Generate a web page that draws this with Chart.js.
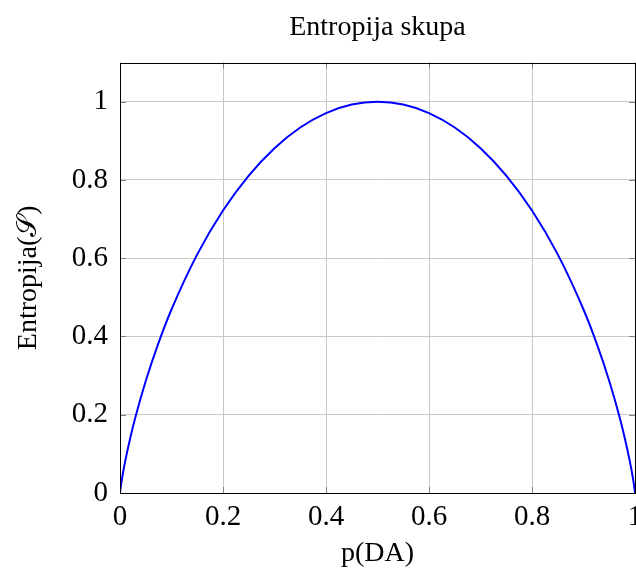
<!DOCTYPE html>
<html>
<head>
<meta charset="utf-8">
<script src="https://cdn.jsdelivr.net/npm/chart.js@4.4.1/dist/chart.umd.min.js"></script>
<style>
  html, body { margin: 0; padding: 0; background: #fff; overflow: hidden; }
  #wrap { width: 636px; height: 570px; overflow: hidden; }
</style>
</head>
<body>
<div id="wrap"><canvas id="entropyChart" width="680" height="570"></canvas></div>
<script>
// p(DA) values and entropy
const pValues = [0, 0.002, 0.005, 0.01, 0.02, 0.03, 0.05, 0.075, 0.1, 0.15, 0.2, 0.25, 0.3, 0.35, 0.4, 0.45, 0.5,
  0.55, 0.6, 0.65, 0.7, 0.75, 0.8, 0.85, 0.9, 0.925, 0.95, 0.97, 0.98, 0.99, 0.995, 0.998, 1];
const entropyValues = [0, 0.0208, 0.0454, 0.0808, 0.1414, 0.1944, 0.2864, 0.3843, 0.469, 0.6098, 0.7219, 0.8113, 0.8813, 0.9341, 0.971, 0.9928, 1,
  0.9928, 0.971, 0.9341, 0.8813, 0.8113, 0.7219, 0.6098, 0.469, 0.3843, 0.2864, 0.1944, 0.1414, 0.0808, 0.0454, 0.0208, 0];
const xTicks = [0, 0.2, 0.4, 0.6, 0.8, 1];
const yTicks = [0, 0.2, 0.4, 0.6, 0.8, 1];

const serif = "'Liberation Serif', 'DejaVu Serif', serif";

// pgfplots style frame: full box plus inward tick marks
const framePlugin = {
  id: 'frame',
  afterDatasetsDraw(chart) {
    const { ctx, chartArea: a, scales } = chart;
    ctx.save();
    ctx.strokeStyle = '#808080';
    ctx.lineWidth = 1;
    ctx.beginPath();
    scales.x.ticks.forEach(t => {
      const px = Math.round(scales.x.getPixelForValue(t.value)) + 0.5;
      ctx.moveTo(px, a.bottom); ctx.lineTo(px, a.bottom - 6);
      ctx.moveTo(px, a.top); ctx.lineTo(px, a.top + 6);
    });
    scales.y.ticks.forEach(t => {
      const py = Math.round(scales.y.getPixelForValue(t.value)) + 0.5;
      ctx.moveTo(a.left, py); ctx.lineTo(a.left + 6, py);
      ctx.moveTo(a.right, py); ctx.lineTo(a.right - 6, py);
    });
    ctx.stroke();
    ctx.strokeStyle = '#000';
    ctx.strokeRect(Math.round(a.left) + 0.5, Math.round(a.top) + 0.5,
      Math.round(a.right - a.left), Math.round(a.bottom - a.top));
    ctx.restore();
  }
};

const ctx = document.getElementById('entropyChart').getContext('2d');
const entropyChart = new Chart(ctx, {
  type: 'scatter',
  data: {
    datasets: [{
      data: pValues.map((p, i) => ({ x: p, y: entropyValues[i] })),
      showLine: true,
      borderColor: '#0000ff',
      borderWidth: 2,
      pointRadius: 0,
      cubicInterpolationMode: 'monotone'
    }]
  },
  options: {
    responsive: false,
    devicePixelRatio: 1,
    animation: false,
    layout: { padding: { left: 0, right: 45, top: 0, bottom: 0 } },
    plugins: {
      legend: { display: false },
      tooltip: { enabled: false },
      title: {
        display: true,
        text: 'Entropija skupa',
        fullSize: false,
        color: '#000',
        font: { family: serif, size: 28, weight: 'normal' },
        padding: { top: 11, bottom: 18 }
      }
    },
    scales: {
      x: {
        type: 'linear',
        min: 0,
        max: 1,
        afterBuildTicks: s => { s.ticks = xTicks.map(v => ({ value: v })); },
        afterFit: s => { s.height = 77; },
        ticks: {
          color: '#000',
          padding: 7,
          maxRotation: 0,
          font: { family: serif, size: 29 },
          callback: v => String(v)
        },
        grid: { color: '#c8c8c8', drawTicks: false },
        border: { display: false },
        title: {
          display: true,
          text: 'p(DA)',
          color: '#000',
          font: { family: serif, size: 28 },
          padding: { top: 0, bottom: 0 }
        }
      },
      y: {
        type: 'linear',
        min: 0,
        max: 1.1,
        afterBuildTicks: s => { s.ticks = yTicks.map(v => ({ value: v })); },
        afterFit: s => { s.width = 120; },
        ticks: {
          color: '#000',
          padding: 12,
          font: { family: serif, size: 29 },
          callback: v => String(v)
        },
        grid: { color: '#c8c8c8', drawTicks: false },
        border: { display: false },
        title: {
          display: true,
          text: 'Entropija(𝒮)',
          color: '#000',
          font: { family: serif, size: 28 },
          padding: { top: 12, bottom: 0 }
        }
      }
    }
  },
  plugins: [framePlugin]
});
</script>
</body>
</html>
